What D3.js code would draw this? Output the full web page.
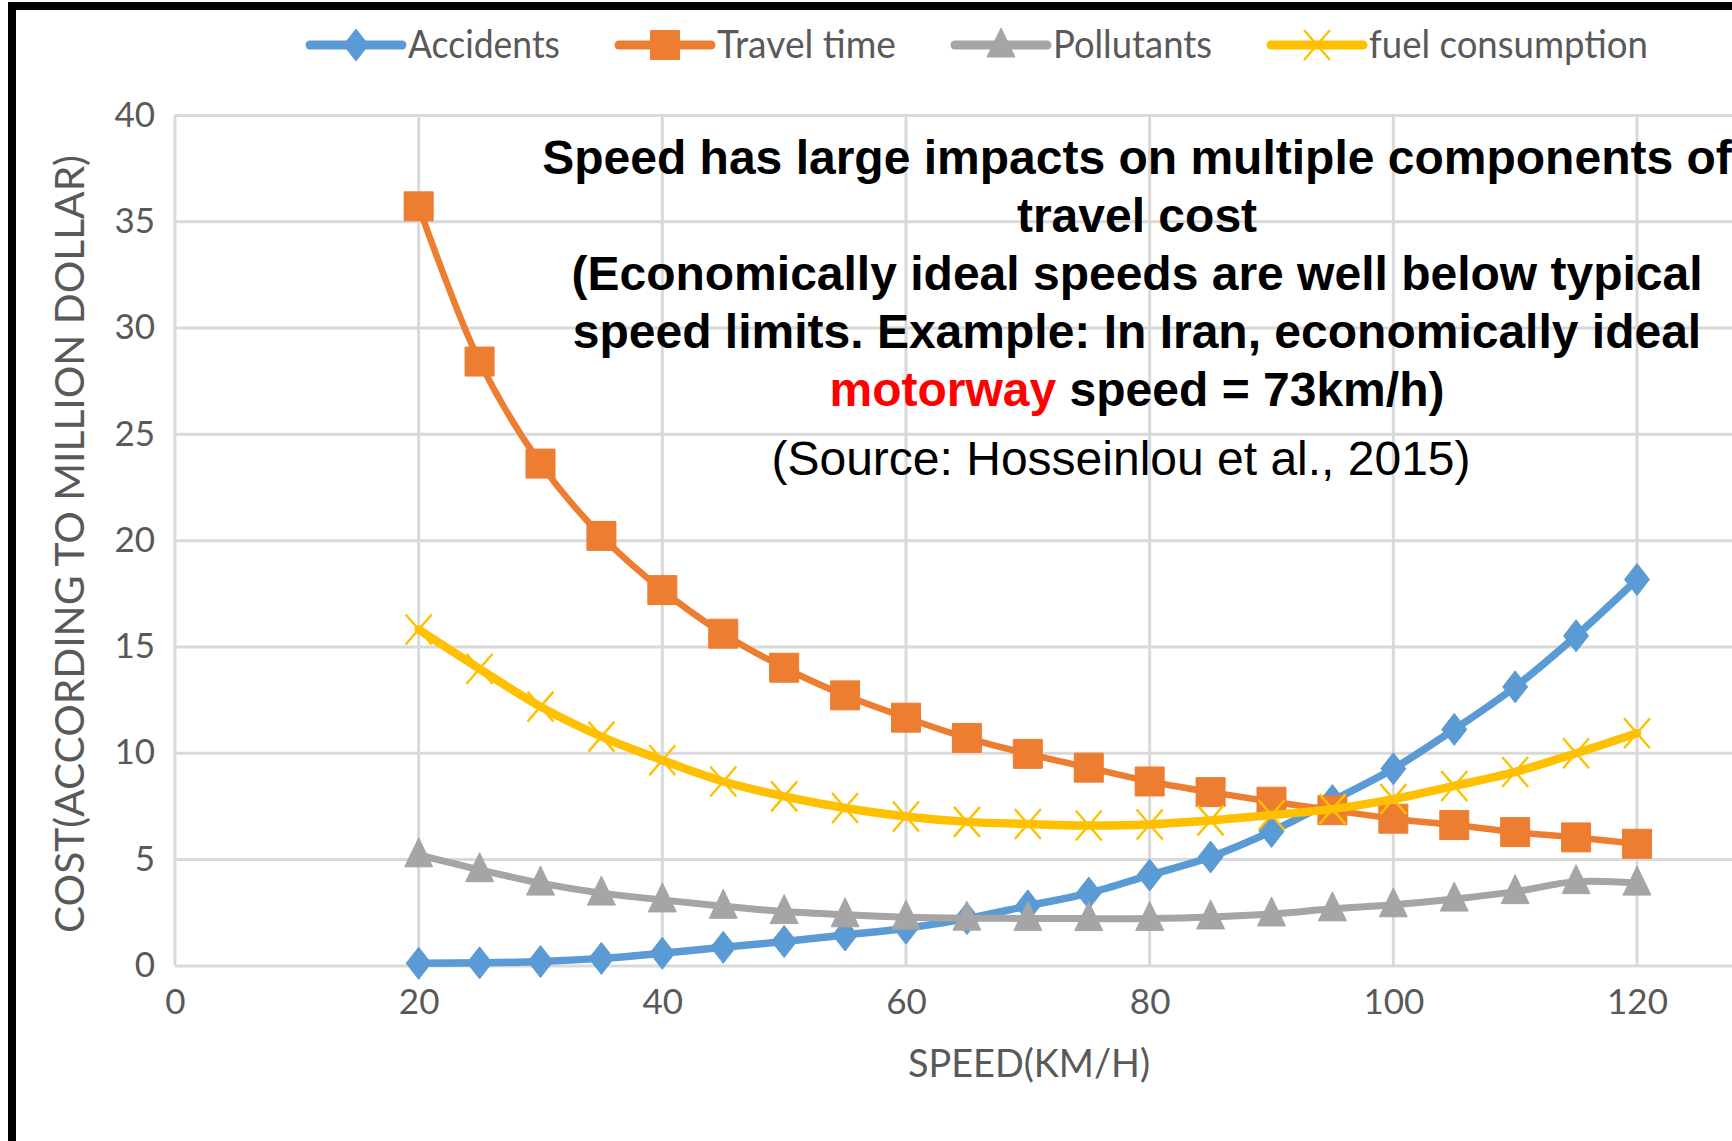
<!DOCTYPE html>
<html>
<head>
<meta charset="utf-8">
<script src="https://cdn.jsdelivr.net/npm/d3@7"></script>
<style>
  html, body { margin: 0; padding: 0; background: #fff; }
  svg { display: block; }
</style>
</head>
<body>
<svg id="chart" width="1732" height="1141"></svg>
<script>
// Travel cost components by speed
const speeds = [20, 25, 30, 35, 40, 45, 50, 55, 60, 65, 70, 75, 80, 85, 90, 95, 100, 105, 110, 115, 120];
const accidents  = [0.10, 0.12, 0.18, 0.33, 0.57, 0.85, 1.12, 1.43, 1.75, 2.2, 2.8, 3.4, 4.25, 5.1, 6.3, 7.75, 9.25, 11.1, 13.1, 15.5, 18.15];
const travelTime = [35.7, 28.4, 23.6, 20.2, 17.65, 15.6, 14.0, 12.7, 11.65, 10.7, 9.95, 9.3, 8.65, 8.15, 7.7, 7.3, 6.9, 6.6, 6.27, 6.02, 5.72];
const pollutants = [5.2, 4.5, 3.87, 3.4, 3.08, 2.78, 2.53, 2.38, 2.27, 2.22, 2.21, 2.2, 2.21, 2.28, 2.42, 2.66, 2.85, 3.12, 3.47, 3.94, 3.87];
const fuel       = [15.8, 13.95, 12.17, 10.76, 9.65, 8.65, 7.95, 7.4, 7.0, 6.75, 6.65, 6.58, 6.63, 6.82, 7.07, 7.35, 7.82, 8.44, 9.1, 9.98, 10.92];

const seriesNames = ["Accidents", "Travel time", "Pollutants", "fuel consumption"];
const seriesValues = [accidents, travelTime, pollutants, fuel];
const seriesColors = ["#5B9BD5", "#ED7D31", "#A5A5A5", "#FFC000"];
const seriesMarkers = ["diamond", "square", "triangle", "x"];
const seriesWidths = [7.5, 6.5, 7, 8.5];

const xTicks = [0, 20, 40, 60, 80, 100, 120];
const xGrid = [0, 20, 40, 60, 80, 100, 120, 140];
const yTicks = [0, 5, 10, 15, 20, 25, 30, 35, 40];

const xTitle = "SPEED(KM/H)";
const yTitle = "COST(ACCORDING TO MILLION DOLLAR)";

const W = 1732, H = 1141;
const svg = d3.select("#chart");
const gray = "#595959";
const gridColor = "#D9D9D9";
const labelFont = "Lato, 'Open Sans', sans-serif";

// Plot frame: x runs 0..140, the right part reaches past the page edge
const x0 = 175, x120 = 1637;
const x = d3.scaleLinear().domain([0, 140]).range([x0, x0 + (x120 - x0) * 140 / 120]);
const y = d3.scaleLinear().domain([0, 40]).range([965.4, 114.9]);

svg.append("rect").attr("width", W).attr("height", H).attr("fill", "#fff");

// Horizontal gridlines + y tick labels
const yAxis = svg.append("g")
  .attr("transform", `translate(${x0},0)`)
  .call(d3.axisLeft(y).tickValues(yTicks).tickSize(-(W - x0)).tickPadding(20).tickFormat(d3.format("d")));
yAxis.select(".domain").remove();
yAxis.selectAll(".tick line").attr("stroke", gridColor).attr("stroke-width", 3);
yAxis.selectAll(".tick text")
  .attr("fill", gray).attr("font-family", labelFont).attr("font-size", 35);

// Vertical gridlines
svg.append("g").selectAll("line").data(xGrid).join("line")
  .attr("x1", d => x(d)).attr("x2", d => x(d))
  .attr("y1", y(40)).attr("y2", y(0))
  .attr("stroke", gridColor).attr("stroke-width", 3);

// x tick labels
const xAxis = svg.append("g")
  .attr("transform", `translate(0,${y(0)})`)
  .call(d3.axisBottom(x).tickValues(xTicks).tickSize(0).tickPadding(24).tickFormat(d3.format("d")));
xAxis.select(".domain").remove();
xAxis.selectAll(".tick text")
  .attr("fill", gray).attr("font-family", labelFont).attr("font-size", 35);

// Axis titles
svg.append("text")
  .attr("x", 1029).attr("y", 1077)
  .attr("text-anchor", "middle")
  .attr("fill", gray).attr("font-family", labelFont).attr("font-size", 39)
  .attr("textLength", 242).attr("lengthAdjust", "spacingAndGlyphs")
  .text(xTitle);

svg.append("text")
  .attr("transform", "translate(84,544) rotate(-90)")
  .attr("text-anchor", "middle")
  .attr("fill", gray).attr("font-family", labelFont).attr("font-size", 41)
  .attr("textLength", 778).attr("lengthAdjust", "spacingAndGlyphs")
  .text(yTitle);

// Marker shapes
function markerPath(kind) {
  switch (kind) {
    case "diamond": return "M0,-16L12.5,0L0,16L-12.5,0Z";
    case "square": return "M-14.5,-14.5H14.5V14.5H-14.5Z";
    case "triangle": return "M0,-17L14,12L-14,12Z";
    case "x": return "M-13,-15L13,15M-13,15L13,-15";
  }
}
function drawMarker(g, kind, color) {
  const p = g.append("path").attr("d", markerPath(kind));
  if (kind === "x") p.attr("fill", "none").attr("stroke", color).attr("stroke-width", 2.4);
  else p.attr("fill", color).attr("stroke", color).attr("stroke-width", 1);
}

// Series: smoothed lines with markers
const line = d3.line().curve(d3.curveCatmullRom.alpha(0.5));
seriesValues.forEach((vals, i) => {
  const pts = vals.map((v, j) => [x(speeds[j]), y(v)]);
  const g = svg.append("g");
  g.append("path")
    .attr("d", line(pts))
    .attr("fill", "none")
    .attr("stroke", seriesColors[i])
    .attr("stroke-width", seriesWidths[i])
    .attr("stroke-linejoin", "round")
    .attr("stroke-linecap", "round");
  pts.forEach(p => {
    const mg = g.append("g").attr("transform", `translate(${p[0]},${p[1]})`);
    drawMarker(mg, seriesMarkers[i], seriesColors[i]);
  });
});

// Legend
const legendTextWidths = [152, 179, 159, 279];
let lx = 310;
const ly = 45;
seriesNames.forEach((name, i) => {
  const g = svg.append("g");
  g.append("line")
    .attr("x1", lx).attr("x2", lx + 92).attr("y1", ly).attr("y2", ly)
    .attr("stroke", seriesColors[i]).attr("stroke-width", 9).attr("stroke-linecap", "round");
  const mg = g.append("g").attr("transform", `translate(${lx + 46},${ly})`);
  drawMarker(mg, seriesMarkers[i], seriesColors[i]);
  g.append("text")
    .attr("x", lx + 98).attr("y", 58)
    .attr("fill", gray).attr("font-family", labelFont).attr("font-size", 39)
    .attr("textLength", legendTextWidths[i]).attr("lengthAdjust", "spacingAndGlyphs")
    .text(name);
  lx += 98 + legendTextWidths[i] + 59;
});

// Annotation block
const note = svg.append("g")
  .attr("font-family", "'Liberation Sans', Arial, sans-serif")
  .attr("font-size", 48)
  .attr("text-anchor", "middle");
const boldLines = [
  "Speed has large impacts on multiple components of",
  "travel cost",
  "(Economically ideal speeds are well below typical",
  "speed limits. Example: In Iran, economically ideal"
];
boldLines.forEach((t, i) => {
  note.append("text")
    .attr("x", 1137).attr("y", 174 + i * 58)
    .attr("font-weight", "bold").attr("fill", "#000")
    .text(t);
});
const l5 = note.append("text")
  .attr("x", 1137).attr("y", 174 + 4 * 58)
  .attr("font-weight", "bold").attr("fill", "#000");
l5.append("tspan").attr("fill", "#FF0000").text("motorway");
l5.append("tspan").text(" speed = 73km/h)");
note.append("text")
  .attr("x", 1121).attr("y", 475)
  .attr("fill", "#000")
  .text("(Source: Hosseinlou et al., 2015)");

// Black frame on the left and top edges
svg.append("rect").attr("x", 8).attr("y", 2).attr("width", W - 8).attr("height", 8).attr("fill", "#000");
svg.append("rect").attr("x", 8).attr("y", 2).attr("width", 8).attr("height", H - 2).attr("fill", "#000");
</script>
</body>
</html>
